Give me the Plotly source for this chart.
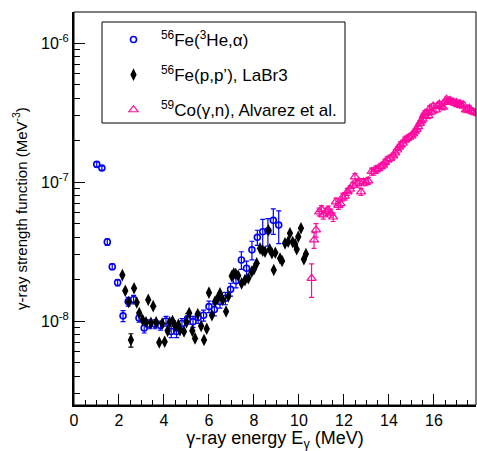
import plotly.graph_objects as go

# 56Fe(3He,alpha)
he_E = [1.01, 1.24, 1.48, 1.70, 1.94, 2.18, 2.41, 2.65, 2.89, 3.12, 3.36, 3.60, 3.85, 4.09, 4.32, 4.56,
        4.80, 5.05, 5.29, 5.52, 5.76, 6.00, 6.24, 6.49, 6.73, 6.96, 7.20, 7.44, 7.67, 7.91, 8.15, 8.39,
        8.62, 8.86, 9.10]
he_f = [1.34e-7, 1.26e-7, 3.7e-8, 2.46e-8, 1.89e-8, 1.09e-8, 1.38e-8, 1.43e-8, 1.05e-8, 8.9e-9, 9.5e-9,
        9.5e-9, 9.3e-9, 1.0e-8, 8.4e-9, 8.4e-9, 9.6e-9, 1.04e-8, 9.9e-9, 1.06e-8, 1.1e-8, 1.27e-8,
        1.21e-8, 1.38e-8, 1.46e-8, 1.69e-8, 1.95e-8, 2.75e-8, 2.4e-8, 3.25e-8, 4.0e-8, 4.39e-8,
        4.46e-8, 5.3e-8, 4.9e-8]
he_err = [0.06e-7, 0.04e-7, 0.2e-8, 0.12e-8, 0.1e-8, 0.1e-8, 0.1e-8, 0.1e-8, 0.07e-8, 0.7e-9, 0.7e-9,
          0.7e-9, 0.7e-9, 0.08e-8, 0.8e-9, 0.8e-9, 0.8e-9, 0.09e-8, 0.9e-9, 0.1e-8, 0.1e-8, 0.12e-8,
          0.12e-8, 0.14e-8, 0.15e-8, 0.18e-8, 0.22e-8, 0.4e-8, 0.3e-8, 0.5e-8, 0.5e-8, 1.0e-8,
          1.0e-8, 1.1e-8, 1.3e-8]

# 56Fe(p,p'), LaBr3
pp_E = [2.15, 2.28, 2.43, 2.53, 2.67, 2.79, 2.90, 3.05, 3.20, 3.30, 3.42, 3.52, 3.65, 3.79, 3.92, 4.03,
        4.16, 4.25, 4.38, 4.50, 4.64, 4.71, 4.89, 5.00, 5.12, 5.26, 5.38, 5.50, 5.65, 5.78, 5.90, 6.00,
        6.13, 6.27, 6.38, 6.49, 6.61, 6.76, 6.86, 7.01, 7.10, 7.19, 7.30, 7.45, 7.60, 7.75, 7.90, 8.00,
        8.12, 8.27, 8.39, 8.49, 8.64, 8.70, 8.80, 8.88, 8.95, 9.16, 9.25, 9.38, 9.52, 9.60, 9.72, 9.83,
        9.90, 9.97, 10.09, 10.22, 10.31]
pp_f = [2.14e-8, 1.65e-8, 1.37e-8, 7.3e-9, 1.72e-8, 1.36e-8, 1.14e-8, 1.02e-8, 9.8e-9, 1.42e-8, 9.7e-9,
        1.28e-8, 9.8e-9, 7.0e-9, 9.6e-9, 7.1e-9, 8.5e-9, 9.8e-9, 1.0e-8, 9.2e-9, 9.4e-9, 8.6e-9, 8.4e-9,
        9.8e-9, 1.14e-8, 8.5e-9, 7.5e-9, 1.12e-8, 9.2e-9, 7.3e-9, 8.8e-9, 1.6e-8, 1.1e-8, 1.38e-8,
        1.45e-8, 1.58e-8, 1.42e-8, 1.17e-8, 1.5e-8, 2.11e-8, 2.2e-8, 2.18e-8, 2.12e-8, 1.86e-8, 1.97e-8,
        2.03e-8, 2.26e-8, 2.36e-8, 2.6e-8, 3.33e-8, 3.2e-8, 3.15e-8, 4.5e-8, 3.28e-8, 3.07e-8, 2.33e-8,
        3.1e-8, 2.82e-8, 2.7e-8, 3.62e-8, 3.72e-8, 4.28e-8, 3.7e-8, 3.58e-8, 3.28e-8, 4.04e-8, 4.65e-8,
        2.78e-8, 3.03e-8]
pp_err = [0, 0, 0, 0.8e-9, 0, 0, 0, 0, 0, 0, 0, 0, 0, 0, 0, 0, 0, 0, 0, 0, 0, 0, 0, 0, 0, 0, 0, 0, 0, 0,
          0, 0, 0, 0, 0, 0, 0, 0, 0, 0, 0, 0, 0, 0, 0, 0, 0, 0, 0, 0, 0, 0, 0, 0, 0, 0, 0, 0, 0, 0, 0, 0,
          0, 0, 0, 0, 0, 0, 0]

# 59Co(gamma,n), Alvarez et al.
co_E = [10.56, 10.67, 10.76, 10.90, 11.00, 11.08, 11.20, 11.30, 11.41, 11.52, 11.64, 11.75, 11.85, 11.94,
        12.04, 12.15, 12.27, 12.39, 12.49, 12.59, 12.68, 12.76, 12.86, 12.98, 13.08, 13.23, 13.33, 13.42,
        13.52, 13.64, 13.74, 13.82, 13.92, 14.05, 14.19, 14.28, 14.37, 14.45, 14.52, 14.62, 14.71, 14.80,
        14.90, 15.00, 15.08, 15.15, 15.23, 15.30, 15.38, 15.44, 15.50, 15.55, 15.60, 15.70, 15.76, 15.82,
        15.90, 15.97, 16.09, 16.17, 16.24, 16.33, 16.41, 16.50, 16.56, 16.64, 16.71, 16.78, 16.86, 16.93,
        17.00, 17.08, 17.16, 17.23, 17.30, 17.42, 17.50, 17.57, 17.66, 17.75, 17.87]
co_f = [2.03e-8, 3.83e-8, 4.52e-8, 6.1e-8, 6.36e-8, 5.8e-8, 6.1e-8, 6.3e-8, 5.98e-8, 5.6e-8, 7.2e-8,
        6.8e-8, 7.0e-8, 7.8e-8, 7.9e-8, 8.5e-8, 8.9e-8, 9.5e-8, 1.09e-7, 9.8e-8, 1.0e-7, 8.5e-8, 1.0e-7,
        1.0e-7, 1.02e-7, 1.19e-7, 1.19e-7, 1.23e-7, 1.25e-7, 1.29e-7, 1.32e-7, 1.38e-7, 1.44e-7, 1.48e-7,
        1.54e-7, 1.62e-7, 1.70e-7, 1.78e-7, 1.85e-7, 1.9e-7, 2.0e-7, 2.05e-7, 2.1e-7, 2.15e-7, 2.22e-7,
        2.3e-7, 2.39e-7, 2.5e-7, 2.64e-7, 2.75e-7, 2.83e-7, 3.0e-7, 3.12e-7, 3.15e-7, 3.0e-7, 3.39e-7,
        3.2e-7, 3.52e-7, 3.3e-7, 3.55e-7, 3.64e-7, 3.5e-7, 3.45e-7, 3.75e-7, 3.94e-7, 3.8e-7, 3.87e-7,
        3.8e-7, 3.76e-7, 3.7e-7, 3.73e-7, 3.6e-7, 3.68e-7, 3.55e-7, 3.6e-7, 3.3e-7, 3.35e-7, 3.39e-7,
        3.25e-7, 3.2e-7, 3.15e-7]
co_err = [0.55e-8, 0.5e-8, 0.5e-8, 0.4e-8, 0.4e-8, 0.4e-8, 0.4e-8, 0.4e-8, 0.4e-8, 0.4e-8, 0.45e-8,
          0.45e-8, 0.45e-8, 0.5e-8, 0.5e-8, 0.5e-8, 0.5e-8, 0.5e-8, 0.06e-7, 0.06e-7, 0.06e-7, 0.05e-7,
          0.06e-7, 0.06e-7, 0.06e-7, 0.07e-7, 0.07e-7, 0.07e-7, 0.07e-7, 0.07e-7, 0.07e-7, 0.08e-7,
          0.08e-7, 0.08e-7, 0.08e-7, 0.09e-7, 0.09e-7, 0.09e-7, 0.1e-7, 0.1e-7, 0.1e-7, 0.1e-7, 0.1e-7,
          0.1e-7, 0.1e-7, 0.1e-7, 0.12e-7, 0.12e-7, 0.12e-7, 0.12e-7, 0.13e-7, 0.13e-7, 0.14e-7,
          0.14e-7, 0.14e-7, 0.15e-7, 0.15e-7, 0.15e-7, 0.15e-7, 0.15e-7, 0.15e-7, 0.15e-7, 0.15e-7,
          0.15e-7, 0.15e-7, 0.15e-7, 0.15e-7, 0.15e-7, 0.15e-7, 0.15e-7, 0.15e-7, 0.15e-7, 0.15e-7,
          0.15e-7, 0.15e-7, 0.15e-7, 0.15e-7, 0.15e-7, 0.15e-7, 0.15e-7, 0.15e-7]

x_ticks = [0, 2, 4, 6, 8, 10, 12, 14, 16]
y_tickvals = [1e-8, 1e-7, 1e-6]
y_ticktext = ["10<sup>-8</sup>", "10<sup>-7</sup>", "10<sup>-6</sup>"]

FONT = "Liberation Sans, Arial, Helvetica, sans-serif"
BLUE = "#0000ff"
PINK = "#ff0aa0"

fig = go.Figure()
fig.add_trace(go.Scatter(
    x=he_E, y=he_f, mode="markers", name="<sup>56</sup>Fe(<sup>3</sup>He,α)", legendgroup="a",
    marker=dict(symbol="circle-open", size=6, color=BLUE, line=dict(width=1.6, color=BLUE)),
    error_y=dict(type="data", array=he_err, color=BLUE, thickness=1.2, width=2.5),
))
fig.add_trace(go.Scatter(
    x=pp_E, y=pp_f, mode="markers", name="<sup>56</sup>Fe(p,p’), LaBr3", legendgroup="b",
    marker=dict(symbol="diamond-tall", size=9, color="black", line=dict(width=0)),
    error_y=dict(type="data", array=pp_err, color="black", thickness=1.2, width=2.5),
))
fig.add_trace(go.Scatter(
    x=co_E, y=co_f, mode="markers", name="<sup>59</sup>Co(γ,n), Alvarez et al.", legendgroup="c",
    marker=dict(symbol="triangle-up-open", size=8, color=PINK, line=dict(width=1.2, color=PINK)),
    error_y=dict(type="data", array=co_err, color=PINK, thickness=1.2, width=2.5),
))

L, T, W, H = 74, 12, 402, 393
def px2paper(x, y):
    return (x - L) / W, 1 - (y - T) / H

x0, y1 = px2paper(102, 22)
x1, y0 = px2paper(345, 123)
fx0, fy1 = px2paper(74, 12)
fx1, fy0 = px2paper(476, 405)
lx, ly = px2paper(106, 22)

minor_y = [m * 10.0 ** e for e in (-9, -8, -7) for m in range(2, 10) if 2.5e-9 < m * 10.0 ** e < 1.7e-6]

fig.update_layout(
    width=477, height=451,
    margin=dict(l=L, r=477 - L - W, t=T, b=451 - T - H),
    paper_bgcolor="white", plot_bgcolor="white",
    font=dict(family=FONT, size=16, color="black"),
    showlegend=True,
    legend=dict(
        x=lx, y=ly, xanchor="left", yanchor="top",
        bgcolor="rgba(0,0,0,0)", borderwidth=0,
        font=dict(family=FONT, size=17, color="black"),
        itemwidth=45, traceorder="grouped", tracegroupgap=10,
    ),
    xaxis=dict(
        range=[0, 17.87], showgrid=False, zeroline=False,
        showline=True, linecolor="black", linewidth=2,
        ticks="inside", ticklen=11, tickwidth=1, tickcolor="black",
        tickvals=x_ticks, ticktext=[str(v) for v in x_ticks],
        minor=dict(ticks="inside", ticklen=5.5, tickwidth=1, tickcolor="black", dtick=0.5, showgrid=False),
        title=dict(text="γ-ray energy E<sub>γ</sub> (MeV)", font=dict(size=18), standoff=4),
        tickfont=dict(size=16),
    ),
    yaxis=dict(
        type="log", range=[-8.604, -5.777], showgrid=False, zeroline=False,
        showline=True, linecolor="black", linewidth=2,
        ticks="inside", ticklen=11, tickwidth=1, tickcolor="black",
        tickvals=y_tickvals, ticktext=y_ticktext,
        minor=dict(ticks="inside", ticklen=5.5, tickwidth=1, tickcolor="black", tickvals=minor_y, showgrid=False),
        title=dict(text="γ-ray strength function (MeV<sup>-3</sup>)", font=dict(size=15), standoff=10),
        tickfont=dict(size=16),
    ),
    shapes=[
        dict(type="rect", xref="paper", yref="paper", x0=fx0, x1=fx1, y0=fy0, y1=fy1,
             line=dict(color="black", width=1), fillcolor="rgba(0,0,0,0)", layer="above"),
        dict(type="rect", xref="paper", yref="paper", x0=x0, x1=x1, y0=y0, y1=y1,
             line=dict(color="black", width=1), fillcolor="white", layer="below"),
    ],
)

fig.write_html("out.html")
